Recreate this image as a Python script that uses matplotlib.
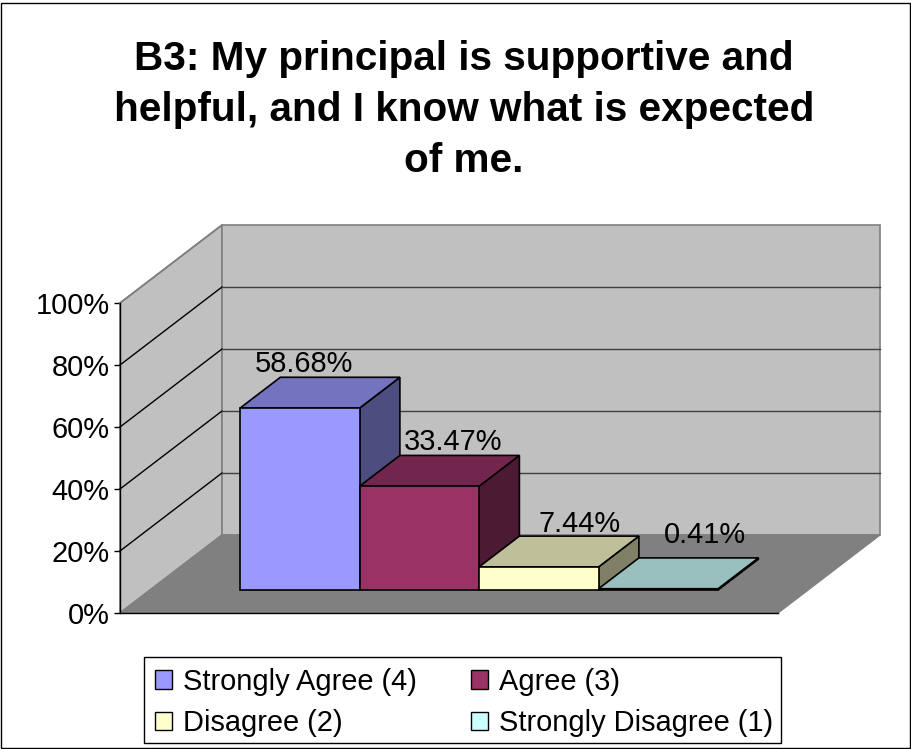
import matplotlib
matplotlib.use("Agg")
import matplotlib.pyplot as plt
from matplotlib.patches import Polygon, Patch, Rectangle
from matplotlib.transforms import ScaledTranslation

plt.rcParams['font.family'] = ['Liberation Sans', 'DejaVu Sans']

# Data
title_text = "B3: My principal is supportive and\nhelpful, and I know what is expected\nof me."
categories = ["Strongly Agree (4)", "Agree (3)", "Disagree (2)", "Strongly Disagree (1)"]
values = [58.68, 33.47, 7.44, 0.41]
value_labels = ["58.68%", "33.47%", "7.44%", "0.41%"]
y_ticks = [0, 20, 40, 60, 80, 100]
y_tick_labels = ["0%", "20%", "40%", "60%", "80%", "100%"]

# Styles
front_colors = ["#9999FF", "#993366", "#FFFFCC", "#CCFFFF"]
top_colors = ["#7373BF", "#73264D", "#BFBF99", "#99BFBF"]
side_colors = ["#4D4D80", "#4D1A33", "#808066", "#668080"]
label_offsets = [(-36, 13), (-7, 13), (0, 12), (6, 23)]  # px from the centre of the bar's rear top edge
FS = 20.9

W, H = 912, 749
fig = plt.figure(figsize=(W / 100, H / 100), dpi=100)
fig.patch.set_facecolor("white")
fig.add_artist(Rectangle((1 / W, 1.5 / H), 909.5 / W, 745 / H, transform=fig.transFigure,
                         fill=False, edgecolor="black", linewidth=1.0))

# Front plane of the 3D box: x 120..778 px, y 613..303 px
ax = fig.add_axes([120 / W, 1 - 613 / H, 658 / W, 310 / H])
ax.patch.set_visible(False)
GAP = 90 / 119.5
ax.set_xlim(-GAP, 4 + GAP)
ax.set_ylim(0, 100)
DX = 102 / 119.5   # full depth in category units
DY = 78 / 3.1      # full depth in value units


def P(x, v, d):
    return (x + d * DX, v + d * DY)


x0, x1 = ax.get_xlim()
kw = dict(clip_on=False)
# walls and floor
ax.add_patch(Polygon([P(x0, 0, 0), P(x0, 100, 0), P(x0, 100, 1), P(x0, 0, 1)],
                     facecolor="#C0C0C0", edgecolor="#808080", lw=1.2, zorder=1, **kw))
ax.add_patch(Polygon([P(x0, 0, 1), P(x0, 100, 1), P(x1, 100, 1), P(x1, 0, 1)],
                     facecolor="#C0C0C0", edgecolor="#808080", lw=1.2, zorder=1, **kw))
ax.add_patch(Polygon([P(x0, 0, 0), P(x1, 0, 0), P(x1, 0, 1), P(x0, 0, 1)],
                     facecolor="#808080", edgecolor="#808080", lw=1, zorder=1.5, **kw))
# gridlines
for t in y_ticks[1:-1]:
    a, b, c = P(x0, t, 0), P(x0, t, 1), P(x1, t, 1)
    ax.plot([a[0], b[0]], [a[1], b[1]], color="black", lw=1.0, zorder=2, **kw)
    ax.plot([b[0], c[0]], [b[1], c[1]], color="#404040", lw=1.0, zorder=2, **kw)
a, b = P(x0, 100, 0), P(x0, 100, 1)
ax.plot([a[0], b[0]], [a[1], b[1]], color="#808080", lw=1.2, zorder=2, **kw)

# bars
D0, D1 = 0.295, 0.69
for i, v in enumerate(values):
    z = 3 + i
    style = dict(edgecolor="black", lw=1.2, joinstyle="miter", zorder=z, **kw)
    ax.add_patch(Polygon([P(i + 1, 0, D0), P(i + 1, v, D0), P(i + 1, v, D1), P(i + 1, 0, D1)],
                         facecolor=side_colors[i], **style))
    ax.add_patch(Polygon([P(i, v, D0), P(i + 1, v, D0), P(i + 1, v, D1), P(i, v, D1)],
                         facecolor=top_colors[i], **style))
    ax.add_patch(Polygon([P(i, 0, D0), P(i + 1, 0, D0), P(i + 1, v, D0), P(i, v, D0)],
                         facecolor=front_colors[i], **style))
    ax.annotate(value_labels[i], xy=P(i + 0.5, v, D1),
                xytext=(label_offsets[i][0] * 0.72, label_offsets[i][1] * 0.72),
                textcoords="offset points", ha="center", va="center",
                fontsize=FS, color="black", zorder=10, annotation_clip=False)

# axis
for s in ("top", "right"):
    ax.spines[s].set_visible(False)
ax.spines["left"].set_linewidth(1.0)
ax.spines["bottom"].set_linewidth(1.0)
ax.set_xticks([])
ax.set_yticks(y_ticks)
ax.set_yticklabels(y_tick_labels, fontsize=FS)
ax.tick_params(axis="y", length=4.3, width=1.0, pad=3)
shift = ScaledTranslation(0, -0.5 / 100, fig.dpi_scale_trans)
for lab in ax.get_yticklabels():
    lab.set_transform(lab.get_transform() + shift)

fig.text(464 / W, 1 - 40 / H, title_text, ha="center", va="top", fontsize=29.2,
         fontweight="bold", linespacing=1.43)

# legend frame and entries
fig.add_artist(Rectangle((144 / W, 1 - 743 / H), 637 / W, 86 / H, transform=fig.transFigure,
                         facecolor="white", edgecolor="black", linewidth=1.0))
handles = [Patch(facecolor=c, edgecolor="black", linewidth=1.0) for c in front_colors]
order = [0, 2, 1, 3]
leg = fig.legend([handles[k] for k in order], [categories[k] for k in order], ncol=2,
                 loc="lower left", bbox_to_anchor=(144 / W, 1 - 748 / H), borderaxespad=0,
                 fontsize=FS, frameon=False, handlelength=0.58, handleheight=0.58,
                 handletextpad=0.38, columnspacing=1.88, labelspacing=0.455, borderpad=0.38)

fig.savefig("out.png", dpi=100)
